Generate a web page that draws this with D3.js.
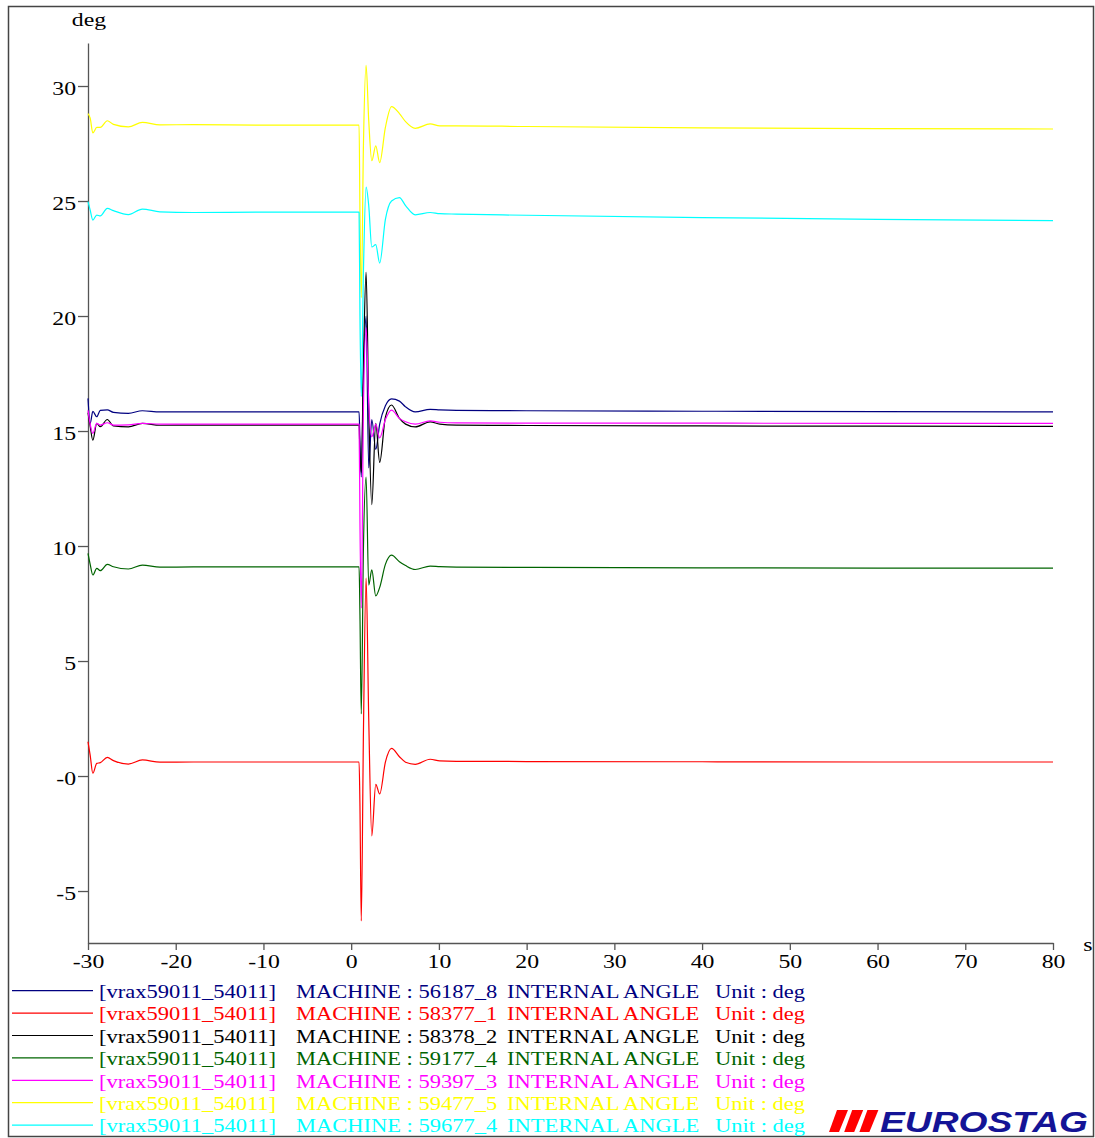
<!DOCTYPE html>
<html>
<head>
<meta charset="utf-8">
<script src="https://cdnjs.cloudflare.com/ajax/libs/d3/7.8.5/d3.min.js"></script>
<style>
  body { margin: 0; background: #fff; }
  svg { display: block; }
</style>
</head>
<body>
<svg id="chart" width="1095" height="1138"></svg>
<script>
// ---------- data ----------
const time = [-30, -29.75, -29.45, -29.0, -28.6, -27.8, -27.1, -25.4, -23.8, -21.8, -18, -10, 0, 0.9,
  1.0, 1.15, 1.4, 1.7, 2.0, 2.35, 2.8, 3.25, 3.9, 4.6, 5.5, 6.2, 7.3, 9.0, 10.1, 12, 20, 40, 60, 80];

const m56187 = [16.42, 15.33, 15.85, 15.62, 15.9, 15.92, 15.81, 15.77, 15.88, 15.83, 15.83, 15.83, 15.83, 15.83,
  14.5, 13.0, 17.5, 20.0, 13.4, 15.5, 14.2, 15.3, 16.1, 16.4, 16.3, 16.05, 15.83, 15.94, 15.92, 15.9, 15.88, 15.86, 15.84, 15.83];
const m58377 = [1.49, 0.9, 0.12, 0.55, 0.58, 0.81, 0.67, 0.52, 0.7, 0.6, 0.61, 0.61, 0.61, 0.61,
  -1.3, -6.3, 2.0, 8.6, 2.5, -2.6, -0.36, -0.78, 0.6, 1.2, 0.84, 0.6, 0.51, 0.73, 0.66, 0.64, 0.63, 0.62, 0.61, 0.61];
const m58378 = [15.8, 15.2, 14.6, 15.33, 15.19, 15.5, 15.22, 15.18, 15.33, 15.25, 15.26, 15.26, 15.26, 15.26,
  14.0, 13.2, 18.0, 21.9, 16.0, 11.8, 15.33, 13.64, 15.6, 16.13, 15.55, 15.3, 15.18, 15.4, 15.3, 15.26, 15.24, 15.22, 15.21, 15.2];
const m59177 = [9.68, 9.2, 8.74, 9.03, 8.93, 9.2, 9.1, 9.0, 9.17, 9.08, 9.09, 9.09, 9.09, 9.09,
  7.0, 2.7, 10.0, 13.0, 8.3, 8.96, 7.83, 8.2, 9.2, 9.6, 9.32, 9.15, 8.98, 9.13, 9.1, 9.08, 9.07, 9.05, 9.04, 9.04];
const m59397 = [15.9, 15.3, 14.9, 15.33, 15.26, 15.36, 15.26, 15.27, 15.33, 15.3, 15.3, 15.3, 15.3, 15.3,
  11.0, 7.3, 16.0, 19.5, 16.2, 14.75, 15.3, 14.7, 15.5, 15.91, 15.55, 15.4, 15.3, 15.44, 15.38, 15.35, 15.34, 15.34, 15.33, 15.33];
const m59477 = [28.8, 28.6, 27.96, 28.2, 28.2, 28.49, 28.33, 28.22, 28.42, 28.31, 28.32, 28.3, 28.3, 28.3,
  24.5, 20.8, 27.5, 30.9, 28.5, 26.75, 27.4, 26.67, 28.2, 29.1, 28.8, 28.45, 28.16, 28.35, 28.27, 28.27, 28.24, 28.18, 28.15, 28.13];
const m59677 = [24.97, 24.6, 24.17, 24.39, 24.35, 24.68, 24.58, 24.41, 24.65, 24.53, 24.5, 24.52, 24.52, 24.52,
  20.0, 16.5, 22.0, 25.6, 24.8, 23.0, 23.1, 22.3, 24.2, 25.0, 25.15, 24.8, 24.4, 24.5, 24.45, 24.43, 24.38, 24.28, 24.2, 24.15];

const seriesValues = [m56187, m58377, m58378, m59177, m59397, m59477, m59677];
const machineNames = ["56187_8", "58377_1", "58378_2", "59177_4", "59397_3", "59477_5", "59677_4"];
const seriesColors = ["#000080", "#ff0000", "#000000", "#006400", "#ff00ff", "#ffff00", "#00ffff"];
const legendPrefix = "[vrax59011_54011]";
const legendQuantity = "INTERNAL ANGLE";
const legendUnit = "Unit : deg";

const xTicks = [-30, -20, -10, 0, 10, 20, 30, 40, 50, 60, 70, 80];
const yTicks = [-5, 0, 5, 10, 15, 20, 25, 30];
const yTickLabels = ["-5", "-0", "5", "10", "15", "20", "25", "30"];
const yUnit = "deg";
const xUnit = "s";

// ---------- drawing ----------
const svg = d3.select("#chart");
const serif = "'Liberation Serif', 'Times New Roman', serif";
const stretchK = 1.25;
function stretch(sel, k) {
  sel.each(function () {
    const w = this.getComputedTextLength();
    d3.select(this).attr("textLength", w * k).attr("lengthAdjust", "spacingAndGlyphs");
  });
}

// frame
svg.append("rect").attr("x", 8.5).attr("y", 6.5).attr("width", 1085).attr("height", 1130)
  .attr("fill", "none").attr("stroke", "#444").attr("stroke-width", 1.5);

const x = d3.scaleLinear().domain([-30, 80]).range([88, 1053]);
const y = d3.scaleLinear().domain([-7.26, 31.87]).range([943, 43]);

// axes
const yAxis = svg.append("g").attr("transform", "translate(88,0)")
  .call(d3.axisLeft(y).tickValues(yTicks).tickFormat((d, i) => yTickLabels[i])
    .tickSize(10).tickSizeOuter(0).tickPadding(2));
const xAxis = svg.append("g").attr("transform", "translate(0,943)")
  .call(d3.axisBottom(x).tickValues(xTicks).tickFormat(d3.format("d"))
    .tickSize(7).tickSizeOuter(0).tickPadding(5));
[yAxis, xAxis].forEach(g => {
  g.select(".domain").attr("stroke", "#555").attr("stroke-width", 1.3);
  g.selectAll(".tick line").attr("stroke", "#555").attr("stroke-width", 1.3);
  g.selectAll("text").attr("font-family", serif).attr("font-size", 19).attr("fill", "#000");
});
yAxis.selectAll("text").attr("dy", "0.44em");
xAxis.selectAll("text").attr("dy", "0.71em").text(d => (d < 0 ? "-" + Math.abs(d) : String(d)));
stretch(yAxis.selectAll("text"), stretchK);
stretch(xAxis.selectAll("text"), stretchK);

// unit labels
const yu = svg.append("text").attr("x", 89).attr("y", 26).attr("text-anchor", "middle")
  .attr("font-family", serif).attr("font-size", 19).text(yUnit);
const xu = svg.append("text").attr("x", 1088).attr("y", 951).attr("text-anchor", "middle")
  .attr("font-family", serif).attr("font-size", 19).text(xUnit);
stretch(yu, stretchK); stretch(xu, stretchK);

// lines
const line = d3.line().x((d, i) => x(time[i])).y(d => y(d)).curve(d3.curveMonotoneX);
svg.append("g").selectAll("path").data(seriesValues).join("path")
  .attr("d", d => line(d))
  .attr("fill", "none")
  .attr("stroke", (d, i) => seriesColors[i])
  .attr("stroke-width", 1.2)
  .attr("stroke-linejoin", "round");

// legend
const lg = svg.append("g");
machineNames.forEach((m, i) => {
  const by = 998 + i * 22.4;
  const c = seriesColors[i];
  lg.append("line").attr("x1", 12).attr("x2", 93).attr("y1", by - 7.3).attr("y2", by - 7.3)
    .attr("stroke", c).attr("stroke-width", 1.2);
  const parts = [[99, legendPrefix], [296, "MACHINE : " + m], [507, legendQuantity], [715, legendUnit]];
  parts.forEach(([px, t]) => {
    const tx = lg.append("text").attr("x", px).attr("y", by)
      .attr("font-family", serif).attr("font-size", 18).attr("fill", c).text(t);
    stretch(tx, stretchK);
  });
});

// logo
const logo = svg.append("g");
[0, 1, 2].forEach(k => {
  const x0 = 837 + k * 15.2;
  logo.append("polygon")
    .attr("points", `${x0},1110 ${x0 + 11},1110 ${x0 + 2},1132 ${x0 - 8},1132`)
    .attr("fill", "#ff0000");
});
logo.append("text").attr("x", 880).attr("y", 1132)
  .attr("font-family", "'Liberation Sans', Arial, sans-serif").attr("font-weight", "bold")
  .attr("font-style", "italic").attr("font-size", 30).attr("fill", "#141496")
  .attr("textLength", 208).attr("lengthAdjust", "spacingAndGlyphs").text("EUROSTAG");
</script>
</body>
</html>
